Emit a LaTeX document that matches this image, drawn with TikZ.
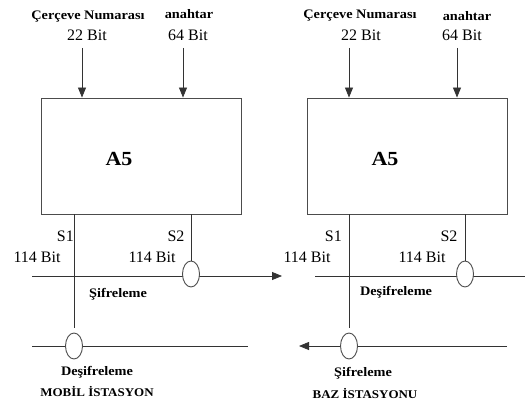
\documentclass[tikz,border=0pt]{standalone}
\usepackage{fontspec}
\setmainfont{Liberation Serif}
\newfontfamily\lblfont[FakeStretch=1.1]{Liberation Serif}
\usetikzlibrary{arrows.meta,shapes.geometric}
\begin{document}
\begin{tikzpicture}[x=1pt,y=-1pt,
  lbl/.style={font=\lblfont\fontsize{13}{15}\selectfont\bfseries, inner sep=0pt},
  stn/.style={font=\lblfont\fontsize{11.8}{13}\selectfont\bfseries, inner sep=0pt},
  num/.style={font=\fontsize{16}{18}\selectfont, inner sep=0pt},
  big/.style={font=\lblfont\fontsize{20}{22}\selectfont\bfseries, inner sep=0pt},
  algbox/.style={draw=black!70, line width=0.9pt, minimum width=200pt, minimum height=116pt, inner sep=0pt},
  xor/.style={draw=black!70, fill=white, ellipse, minimum width=17pt, minimum height=26pt, line width=0.9pt, inner sep=0pt},
  arr/.style={-{Triangle[width=8pt,length=10pt]}},
  wire/.style={line width=0.8pt, draw=black!80},
]
\useasboundingbox (0,0) rectangle (526,406);

% ---------- left side (mobile station) ----------
\node[algbox] (boxL) at (141,156) {};
\node[big] (a5L) at (119,159) {A5};
\node[lbl] (cnL) at (88,17) {Çerçeve Numarası};
\node[num] (b22L) at (87,35) {22 Bit};
\node[lbl] (keyL) at (189,14) {anahtar};
\node[num] (b64L) at (188,35) {64 Bit};
\coordinate (inL1) at (82,48);
\coordinate (inL2) at (183,48);
\draw[wire,arr] (inL1) -- (inL1 |- boxL.north);
\draw[wire,arr] (inL2) -- (inL2 |- boxL.north);

\coordinate (hL1s) at (32,276);
\coordinate (hL1e) at (282,276);
\coordinate (hL2s) at (32,346);
\coordinate (hL2e) at (248,346);
\draw[wire,arr] (hL1s) -- (hL1e);
\draw[wire] (hL2s) -- (hL2e);
\node[xor] (xL2) at (191,274) {};
\node[xor] (xL1) at (74,346) {};
\draw[wire] (boxL.south -| xL1) -- ([yshift=5pt]xL1.north);
\draw[wire] (boxL.south -| xL2) -- (xL2.north);

\node[num, anchor=east] (s1L) at (74,236) {S1};
\node[num] (s2L) at (176,236) {S2};
\node[num] (bitL1) at (37,257) {114 Bit};
\node[num] (bitL2) at (152,257) {114 Bit};
\node[lbl] (sifL) at (118,294) {Şifreleme};
\node[lbl] (desL) at (97,372) {Deşifreleme};
\node[stn] (ms) at (97,391) {MOBİL İSTASYON};

% ---------- right side (base station) ----------
\node[algbox] (boxR) at (407.5,156) {};
\node[big] (a5R) at (385,159) {A5};
\node[lbl] (cnR) at (360,16) {Çerçeve Numarası};
\node[num] (b22R) at (361,35) {22 Bit};
\node[lbl] (keyR) at (467,16) {anahtar};
\node[num] (b64R) at (462,35) {64 Bit};
\coordinate (inR1) at (349,48);
\coordinate (inR2) at (457,48);
\draw[wire,arr] (inR1) -- (inR1 |- boxR.north);
\draw[wire,arr] (inR2) -- (inR2 |- boxR.north);

\coordinate (hR1s) at (315,276);
\coordinate (hR1e) at (525,276);
\coordinate (hR2s) at (507,346);
\coordinate (hR2e) at (299,346);
\draw[wire] (hR1s) -- (hR1e);
\draw[wire,arr] (hR2s) -- (hR2e);
\node[xor] (xR2) at (465,274) {};
\node[xor] (xR1) at (349,346) {};
\draw[wire] (boxR.south -| xR1) -- ([yshift=5pt]xR1.north);
\draw[wire] (boxR.south -| xR2) -- (xR2.north);

\node[num, anchor=east] (s1R) at (342,236) {S1};
\node[num] (s2R) at (449,236) {S2};
\node[num] (bitR1) at (307,257) {114 Bit};
\node[num] (bitR2) at (422,257) {114 Bit};
\node[lbl] (desR) at (396,292) {Deşifreleme};
\node[lbl] (sifR) at (363,373) {Şifreleme};
\node[stn] (bs) at (365,393) {BAZ İSTASYONU};
\end{tikzpicture}
\end{document}
